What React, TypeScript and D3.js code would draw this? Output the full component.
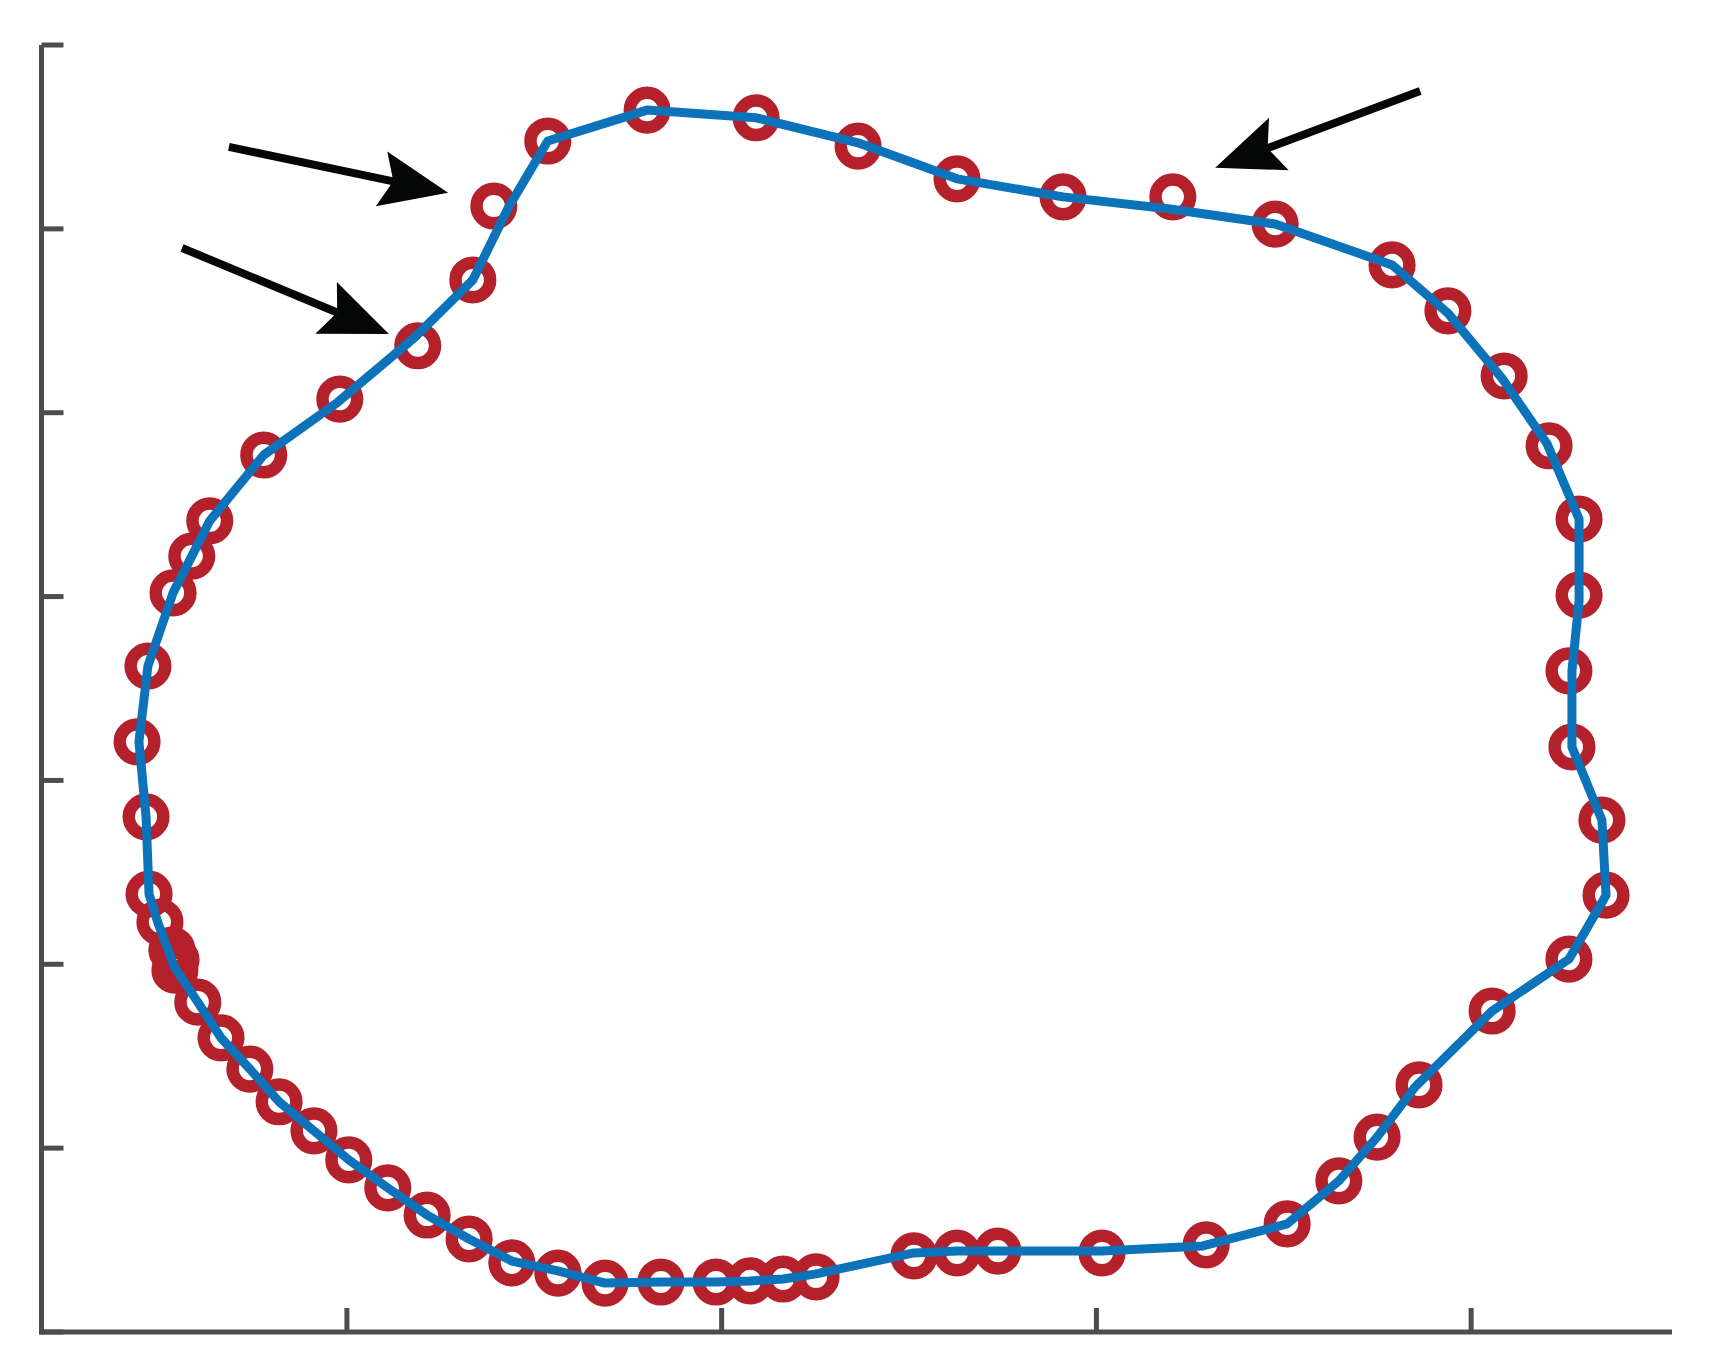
import * as d3 from 'd3'

// red circle markers (raw contour samples), clockwise from the leftmost point
const markerX = [44.0, 46.9, 53.6, 58.6, 63.4, 77.8, 98.1, 118.9, 133.6, 139.2, 153.6, 180.1, 209.2, 236.4, 262.8, 291.1, 320.4, 347.7, 378.9, 393.8, 408.8, 420.8, 428.8, 428.8, 426.1, 426.9, 434.9, 436.0, 426.1, 405.6, 386.1, 374.9, 364.7, 350.9, 329.3, 301.5, 273.7, 262.8, 251.3, 225.2, 216.4, 207.6, 198.5, 183.8, 168.9, 156.3, 144.0, 132.6, 121.4, 110.9, 100.5, 91.2, 81.9, 74.1, 66.4, 60.2, 54.1, 54.4, 53.3, 50.1, 47.2, 46.4]
const markerY = [160.5, 181.1, 201.0, 211.0, 220.6, 238.5, 253.7, 268.2, 286.1, 306.2, 323.9, 332.3, 330.2, 322.5, 313.6, 308.7, 308.7, 301.3, 290.2, 277.7, 260.0, 241.0, 221.1, 200.4, 179.8, 159.1, 139.2, 118.8, 101.4, 87.3, 67.2, 53.0, 41.1, 29.4, 23.7, 21.5, 22.0, 21.5, 20.7, 15.0, 14.4, 13.9, 13.6, 13.6, 13.3, 16.0, 18.8, 25.3, 31.8, 39.2, 46.8, 54.7, 62.6, 71.5, 80.0, 89.7, 98.4, 101.2, 103.9, 111.5, 119.1, 140.1]

// blue smoothed contour
const lineX = [44.5, 46.9, 53.6, 58.6, 63.4, 77.8, 97.6, 117.9, 133.6, 143.2, 153.6, 180.1, 209.2, 236.4, 262.8, 291.1, 319.6, 347.7, 378.9, 393.8, 408.2, 420.3, 428.8, 428.8, 426.9, 426.9, 434.9, 436.0, 426.1, 405.6, 385.0, 374.9, 364.7, 350.9, 328.4, 301.5, 273.7, 262.8, 251.3, 225.2, 216.4, 207.6, 198.5, 183.8, 168.9, 156.3, 144.0, 132.6, 121.4, 110.9, 100.5, 91.2, 81.9, 74.1, 66.4, 60.2, 53.8, 52.8, 51.7, 49.6, 47.2, 46.4]
const lineY = [160.5, 181.1, 201.0, 211.0, 220.6, 238.5, 252.9, 270.3, 286.1, 306.0, 323.9, 332.3, 330.2, 323.4, 313.6, 308.7, 305.4, 301.3, 290.2, 277.1, 259.4, 241.5, 221.1, 198.8, 179.8, 159.1, 139.2, 118.8, 101.4, 87.3, 66.6, 53.0, 41.1, 29.4, 23.4, 22.0, 22.0, 22.0, 21.5, 15.8, 14.4, 13.9, 13.6, 13.6, 13.3, 16.6, 19.3, 25.3, 31.8, 39.2, 46.8, 54.7, 62.6, 71.5, 80.0, 89.7, 99.5, 102.5, 105.5, 111.2, 119.1, 140.1]

// annotation arrows: [tailX, tailY, tipX, tipY]
const arrows = [
  [68.5, 322.3, 127.0, 309.8],
  [56.0, 294.8, 111.2, 271.4],
  [386.4, 337.5, 331.7, 316.6]
]

const xTicks = [100, 200, 300, 400]
const yTicks = [0, 50, 100, 150, 200, 250, 300, 350]

const W = 1709
const H = 1370
const AXIS = '#4d4d4f'
const RED = '#b4212a'
const BLUE = '#0c72ba'

export default function App() {
  const x = d3.scaleLinear().domain([18.5, 453.6]).range([41.5, 1672])
  const y = d3.scaleLinear().domain([0, 350]).range([1332, 45])

  const pts: [number, number][] = lineX.map((v, i) => [x(v), y(lineY[i])])
  const path = d3.line().curve(d3.curveLinearClosed)(pts)

  const x0 = x.range()[0]
  const y0 = y.range()[0]

  return (
    <div style={{ position: 'absolute', left: 0, top: 0 }}>
      <svg width={W} height={H} style={{ display: 'block', background: '#fff' }}>
        {/* axes */}
        <line x1={x0} y1={y(350)} x2={x0} y2={y0 + 2.5} stroke={AXIS} strokeWidth={5} />
        <line x1={x0 - 2.5} y1={y0} x2={x.range()[1]} y2={y0} stroke={AXIS} strokeWidth={5} />
        {yTicks.map(t => (
          <line key={'y' + t} x1={x0} x2={x0 + 22} y1={y(t)} y2={y(t)} stroke={AXIS} strokeWidth={5} />
        ))}
        {xTicks.map(t => (
          <line key={'x' + t} x1={x(t)} x2={x(t)} y1={y0} y2={y0 - 24} stroke={AXIS} strokeWidth={5} />
        ))}

        {/* markers */}
        {markerX.map((v, i) => (
          <circle key={i} cx={x(v)} cy={y(markerY[i])} r={17.3} fill="none" stroke={RED} strokeWidth={12.5} />
        ))}

        {/* contour */}
        <path d={path || ''} fill="none" stroke={BLUE} strokeWidth={9} strokeLinejoin="round" />

        {/* arrows */}
        {arrows.map((a, i) => {
          const tx = x(a[0]), ty = y(a[1]), hx = x(a[2]), hy = y(a[3])
          const len = Math.hypot(hx - tx, hy - ty)
          const ux = (hx - tx) / len, uy = (hy - ty) / len
          const nx = -uy, ny = ux
          const headL = 68, headW = 28, notch = 56
          const head = [
            [hx, hy],
            [hx - ux * headL + nx * headW, hy - uy * headL + ny * headW],
            [hx - ux * notch, hy - uy * notch],
            [hx - ux * headL - nx * headW, hy - uy * headL - ny * headW]
          ]
          return (
            <g key={'a' + i}>
              <line x1={tx} y1={ty} x2={hx - ux * notch} y2={hy - uy * notch} stroke="#050606" strokeWidth={8} />
              <polygon points={head.map(p => p.join(',')).join(' ')} fill="#050606" />
            </g>
          )
        })}
      </svg>
    </div>
  )
}
